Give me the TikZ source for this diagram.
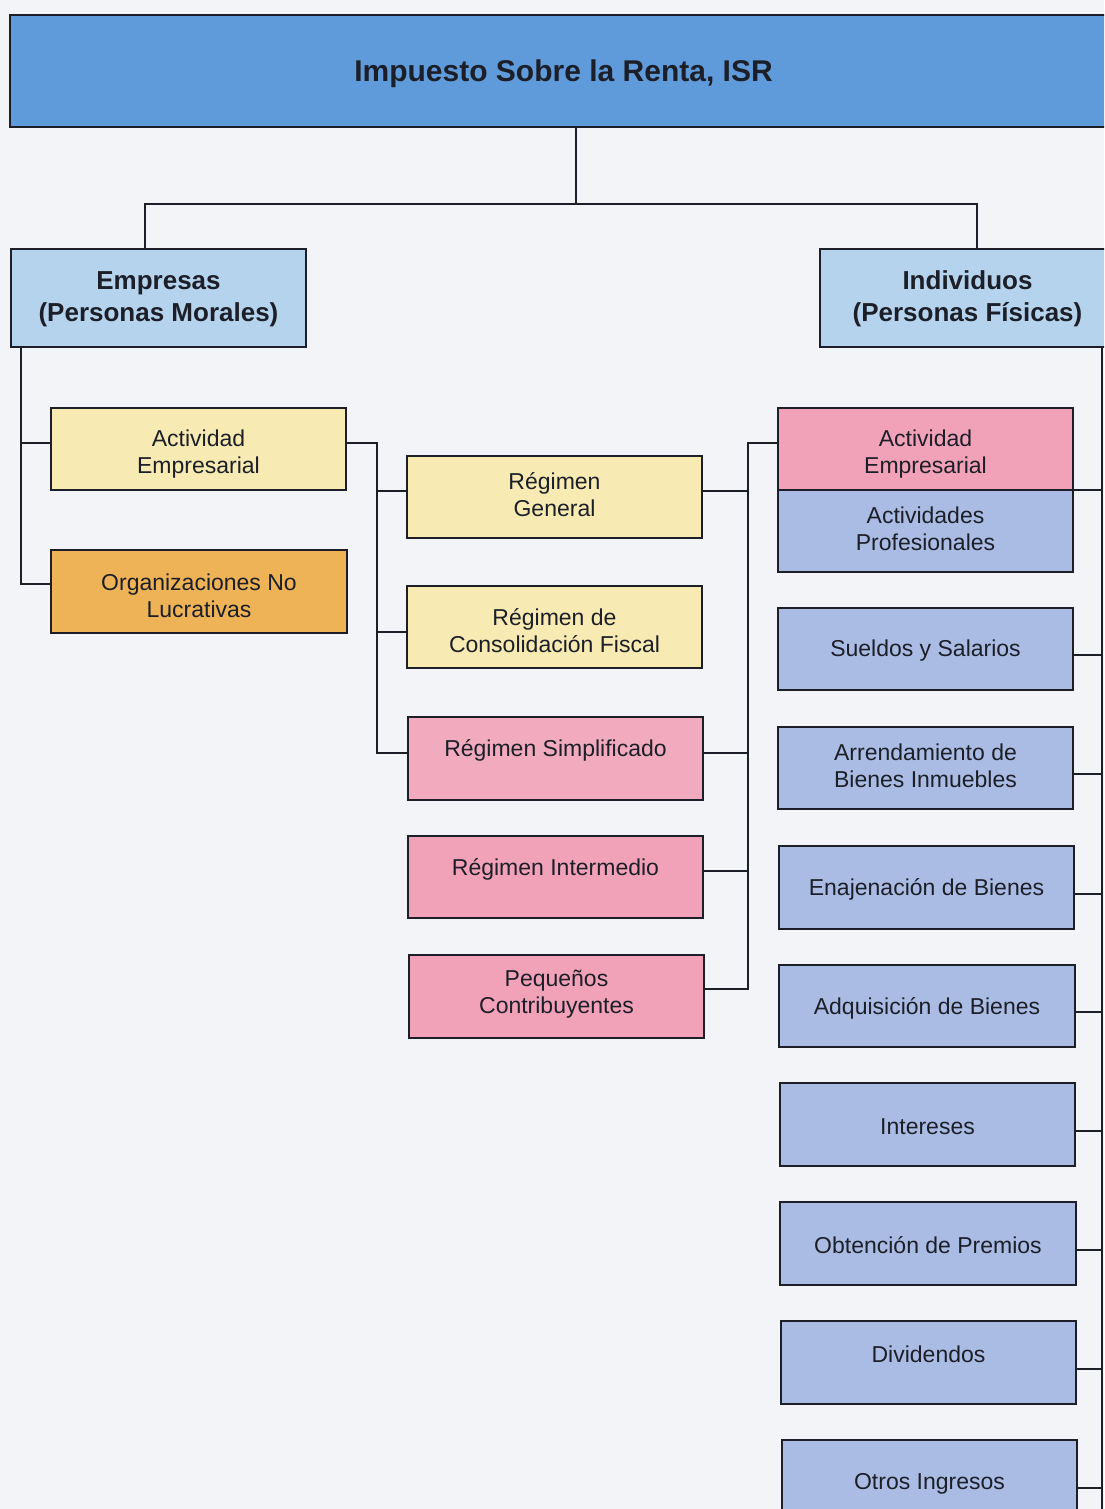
\documentclass[tikz,border=0pt]{standalone}
\usepackage{fontspec}
\setmainfont{Liberation Sans}
\definecolor{paper}{HTML}{F3F4F7}
\definecolor{topblue}{HTML}{5F9BDA}
\definecolor{lightblue}{HTML}{B6D3EE}
\definecolor{paleyellow}{HTML}{F7EAB3}
\definecolor{orangebox}{HTML}{EFB357}
\definecolor{pinkbox}{HTML}{F2A2B8}
\definecolor{pinksoft}{HTML}{F2ABBE}
\definecolor{periwinkle}{HTML}{AABCE4}
\definecolor{ink}{HTML}{1C1F28}
\begin{document}
\begin{tikzpicture}[x=1pt,y=-1pt,
  bx/.style={draw=ink, line width=2.3pt, anchor=north west, inner sep=0pt, outer sep=0pt},
  sz/.style 2 args={minimum width=#1pt, minimum height=#2pt},
  lbl/.style={font=\fontsize{23}{27}\selectfont, align=center, text=ink, inner sep=0pt, yshift=-2pt},
  blbl/.style={font=\fontsize{26}{32}\selectfont\bfseries, align=center, text=ink, inner sep=0pt, yshift=-1pt},
  tlbl/.style={font=\fontsize{30}{36}\selectfont\bfseries, align=center, text=ink, inner sep=0pt, yshift=-3pt},
  link/.style={draw=ink, line width=2pt}]
\useasboundingbox (0,0) rectangle (1104,1509);
\clip (0,0) rectangle (1104,1509);
\fill[paper] (0,0) rectangle (1104,1509);

% header and the two main branches
\node[bx, sz={1107}{112}, fill=topblue] (isr) at (10,15) {};
\node[tlbl] (isr-t) at (isr.center) {Impuesto Sobre la Renta, ISR};
\node[bx, sz={295}{98}, fill=lightblue] (emp) at (11,249) {};
\node[blbl] (emp-t) at (emp.center) {Empresas\\(Personas Morales)};
\node[bx, sz={295}{98}, fill=lightblue] (ind) at (820,249) {};
\node[blbl] (ind-t) at (ind.center) {Individuos\\(Personas Físicas)};

% companies
\node[bx, sz={295}{82}, fill=paleyellow] (actL) at (51,408) {};
\node[lbl] (actL-t) at ([yshift=-3pt]actL.center) {Actividad\\Empresarial};
\node[bx, sz={296}{83}, fill=orangebox] (orgs) at (51,550) {};
\node[lbl] (orgs-t) at ([yshift=-2pt]orgs.center) {Organizaciones No\\Lucrativas};

% tax regimes
\node[bx, sz={295}{82}, fill=paleyellow] (gen) at (407,456) {};
\node[lbl] (gen-t) at ([yshift=4pt]gen.center) {Régimen\\General};
\node[bx, sz={295}{82}, fill=paleyellow] (cons) at (407,586) {};
\node[lbl] (cons-t) at ([yshift=-2pt]cons.center) {Régimen de\\Consolidación Fiscal};
\node[bx, sz={295}{83}, fill=pinksoft] (simp) at (408,717) {};
\node[lbl] (simp-t) at ([yshift=10pt]simp.center) {Régimen Simplificado};
\node[bx, sz={295}{82}, fill=pinkbox] (inter) at (408,836) {};
\node[lbl] (inter-t) at ([yshift=10pt]inter.center) {Régimen Intermedio};
\node[bx, sz={295}{83}, fill=pinkbox] (peq) at (409,955) {};
\node[lbl] (peq-t) at ([yshift=4pt]peq.center) {Pequeños\\Contribuyentes};

% individuals
\node[bx, sz={295}{82}, fill=pinkbox] (actR) at (778,408) {};
\node[lbl] (actR-t) at ([yshift=-3pt]actR.center) {Actividad\\Empresarial};
\node[bx, sz={295}{82}, fill=periwinkle] (prof) at (778,490) {};
\node[lbl] (prof-t) at ([yshift=4pt]prof.center) {Actividades\\Profesionales};
\node[bx, sz={295}{82}, fill=periwinkle] (suel) at (778,608) {};
\node[lbl] (suel-t) at (suel.center) {Sueldos y Salarios};
\node[bx, sz={295}{82}, fill=periwinkle] (arr) at (778,727) {};
\node[lbl] (arr-t) at ([yshift=4pt]arr.center) {Arrendamiento de\\Bienes Inmuebles};
\node[bx, sz={295}{83}, fill=periwinkle] (ena) at (779,846) {};
\node[lbl] (ena-t) at (ena.center) {Enajenación de Bienes};
\node[bx, sz={296}{82}, fill=periwinkle] (adq) at (779,965) {};
\node[lbl] (adq-t) at (adq.center) {Adquisición de Bienes};
\node[bx, sz={295}{83}, fill=periwinkle] (intr) at (780,1083) {};
\node[lbl] (intr-t) at (intr.center) {Intereses};
\node[bx, sz={296}{83}, fill=periwinkle] (prem) at (780,1202) {};
\node[lbl] (prem-t) at (prem.center) {Obtención de Premios};
\node[bx, sz={295}{83}, fill=periwinkle] (divi) at (781,1321) {};
\node[lbl] (divi-t) at ([yshift=10pt]divi.center) {Dividendos};
\node[bx, sz={295}{83}, fill=periwinkle] (otros) at (782,1440) {};
\node[lbl] (otros-t) at (otros.center) {Otros Ingresos};

% bus lines
\coordinate (split) at (576,204);
\coordinate (busL) at (377,443);
\coordinate (busM) at (748,443);
\coordinate (busR) at (1102,347);

\draw[link] ([xshift=12.5pt]isr.south) -- (split);
\draw[link] ([xshift=134pt]emp.north west) |- (split) -| ([xshift=157pt]ind.north west);

\draw[link] ([xshift=10pt]emp.south west) |- ([yshift=8pt]orgs.west);
\draw[link] ([xshift=10pt]emp.south west) |- ([yshift=6pt]actL.west);

\draw[link] ([yshift=6pt]actL.east) -- (busL) -- ([yshift=6pt]simp.west -| busL) -- ([yshift=6pt]simp.west);
\draw[link] ([yshift=6pt]gen.west) -- ([yshift=6pt]gen.west -| busL);
\draw[link] ([yshift=-5pt]cons.west) -- ([yshift=-5pt]cons.west -| busL);

\draw[link] ([yshift=6pt]actR.west) -- (busM) -- ([yshift=8pt]peq.east -| busM) -- ([yshift=8pt]peq.east);
\draw[link] ([yshift=6pt]gen.east) -- ([yshift=6pt]gen.east -| busM);
\draw[link] ([yshift=6pt]simp.east) -- ([yshift=6pt]simp.east -| busM);
\draw[link] ([yshift=6pt]inter.east) -- ([yshift=6pt]inter.east -| busM);

\draw[link] (busR) -- ([yshift=-40pt]otros.east -| busR);
\draw[link] (prof.north east) -- (prof.north east -| busR);
\foreach \b in {suel,arr,ena,adq,intr,prem,divi,otros}
  \draw[link] ([yshift=-6pt]\b.east) -- ([yshift=-6pt]\b.east -| busR);
\end{tikzpicture}
\end{document}
